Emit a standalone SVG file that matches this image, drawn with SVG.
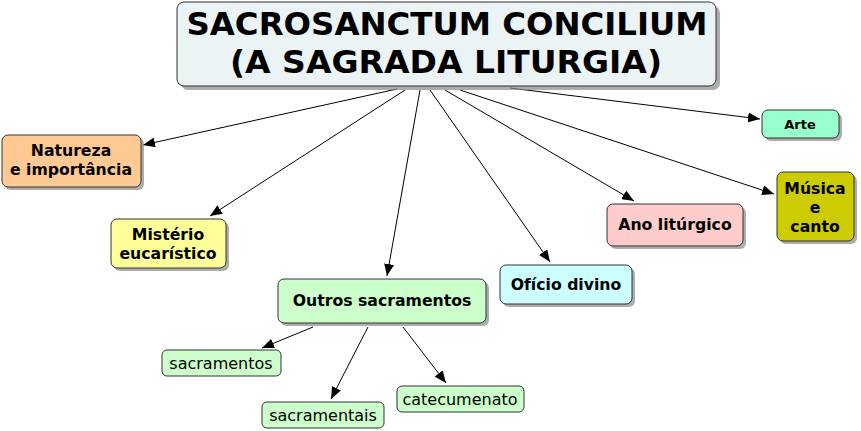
<svg xmlns="http://www.w3.org/2000/svg" width="861" height="431" viewBox="0 0 861 431">
<defs>
<marker id="ah" viewBox="0 0 12 10" refX="12" refY="5" markerWidth="12" markerHeight="10" markerUnits="userSpaceOnUse" orient="auto">
<path d="M0,0 L12,5 L0,10 Z" fill="#000"/>
</marker>
</defs>
<style>
.sh{fill:#8a8a8a;opacity:0.7}
.bx{stroke:#333;stroke-width:1}
text{font-family:"DejaVu Sans",Verdana,sans-serif;fill:#000;text-anchor:middle}
.b{font-weight:bold;font-size:15.7px}
.n{font-size:16px}
.t{font-weight:bold;font-size:32px}
.c line{stroke:#000;stroke-width:1;marker-end:url(#ah)}
</style>
<g class="c" id="connectors">
<line x1="397" y1="89" x2="143" y2="145"/>
<line x1="405" y1="90" x2="210" y2="216"/>
<line x1="420" y1="90" x2="387" y2="276"/>
<line x1="430" y1="90" x2="550" y2="262"/>
<line x1="445" y1="90" x2="634" y2="201"/>
<line x1="460" y1="90" x2="774" y2="194"/>
<line x1="510" y1="88" x2="760" y2="119"/>
<line x1="313" y1="327" x2="262" y2="348"/>
<line x1="368" y1="327" x2="331" y2="399"/>
<line x1="403" y1="327" x2="446" y2="383"/>
</g>
<g id="title">
<rect class="sh" x="181" y="6" width="539" height="84" rx="7"/>
<rect class="bx" x="177" y="2" width="539" height="84" rx="7" fill="#ecf3f5"/>
<text class="t" x="447" y="35" textLength="521" lengthAdjust="spacingAndGlyphs">SACROSANCTUM CONCILIUM</text>
<text class="t" x="446" y="73" textLength="432" lengthAdjust="spacingAndGlyphs">(A SAGRADA LITURGIA)</text>
</g>
<g id="natureza">
<rect class="sh" x="5" y="138" width="139" height="52" rx="6"/>
<rect class="bx" x="2" y="135" width="139" height="52" rx="6" fill="#ffc993"/>
<text class="b" x="71" y="156">Natureza</text>
<text class="b" x="71" y="175">e importância</text>
</g>
<g id="misterio">
<rect class="sh" x="114" y="222" width="115" height="49" rx="6"/>
<rect class="bx" x="111" y="219" width="115" height="49" rx="6" fill="#ffff99"/>
<text class="b" x="168" y="240">Mistério</text>
<text class="b" x="168" y="259">eucarístico</text>
</g>
<g id="outros">
<rect class="sh" x="281" y="282" width="208" height="44" rx="6"/>
<rect class="bx" x="278" y="279" width="208" height="44" rx="6" fill="#ccffcc"/>
<text class="b" x="382" y="306">Outros sacramentos</text>
</g>
<g id="oficio">
<rect class="sh" x="503" y="268" width="132" height="39" rx="6"/>
<rect class="bx" x="500" y="265" width="132" height="39" rx="6" fill="#ccffff"/>
<text class="b" x="566" y="290">Ofício divino</text>
</g>
<g id="ano">
<rect class="sh" x="610" y="207" width="136" height="42" rx="6"/>
<rect class="bx" x="607" y="204" width="136" height="42" rx="6" fill="#ffcccc"/>
<text class="b" x="675" y="230">Ano litúrgico</text>
</g>
<g id="arte">
<rect class="sh" x="765" y="113" width="77" height="28" rx="6"/>
<rect class="bx" x="762" y="110" width="77" height="28" rx="6" fill="#99ffcc"/>
<text x="800" y="129" style="font-weight:bold;font-size:13px">Arte</text>
</g>
<g id="musica">
<rect class="sh" x="780" y="175" width="77" height="69" rx="6"/>
<rect class="bx" x="777" y="172" width="77" height="69" rx="6" fill="#cccc00"/>
<text class="b" x="815" y="194">Música</text>
<text class="b" x="815" y="213">e</text>
<text class="b" x="815" y="232">canto</text>
</g>
<g id="sacramentos">
<rect class="bx" x="162" y="350" width="119" height="26" rx="5" fill="#ccffcc"/>
<text class="n" x="221" y="369">sacramentos</text>
</g>
<g id="sacramentais">
<rect class="bx" x="262" y="402" width="122" height="26" rx="5" fill="#ccffcc"/>
<text class="n" x="323" y="421">sacramentais</text>
</g>
<g id="catecumenato">
<rect class="bx" x="397" y="386" width="127" height="26" rx="5" fill="#ccffcc"/>
<text class="n" x="460" y="405">catecumenato</text>
</g>
</svg>
